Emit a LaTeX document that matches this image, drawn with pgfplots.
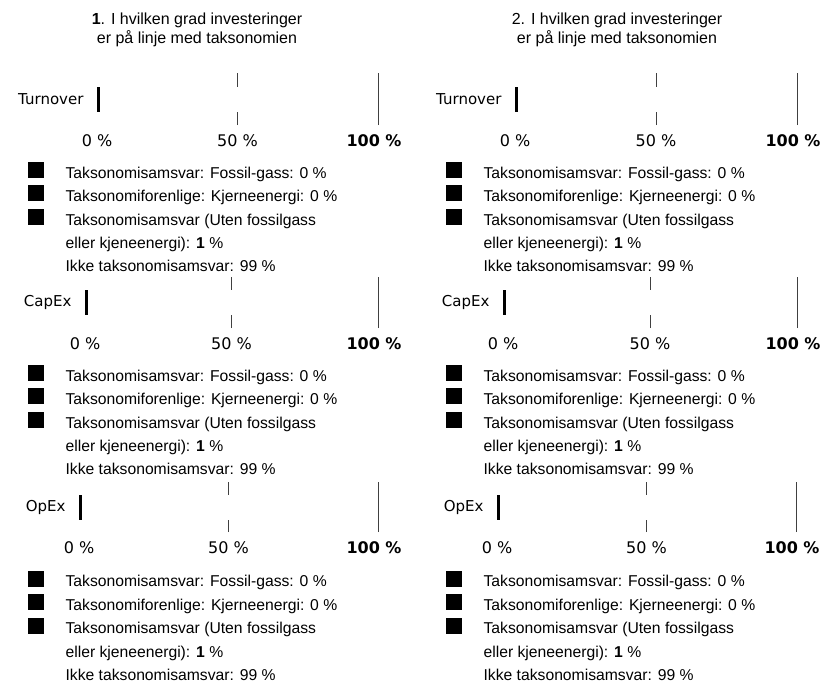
\documentclass[border=0pt]{standalone}
\usepackage{pgfplots}
\pgfplotsset{compat=1.18}
\usepackage{fontspec}
\setmainfont{Liberation Sans}
\newfontfamily\dejavu{DejaVu Sans}

\pgfplotsset{
  sq/.style={legend image code/.code={\fill[black] (0bp,-3bp) rectangle (15bp,12bp);}},
  emptyimg/.style={legend image code/.code={\path[draw=none, fill=none] (0bp,-3bp) rectangle (15bp,12bp);}},
  taxo/.style={
    scale only axis, xbar stacked, bar width=25bp,
    xmin=0, xmax=100, ymin=-1, ymax=1, enlargelimits=false, clip=false,
    axis line style={draw=none}, major tick length=0pt,
    xtick={50,100}, xticklabels={50 \%,\textbf{100 \%}\kern8bp},
    extra x ticks={0}, extra x tick labels={0 \%}, extra x tick style={grid=none},
    xmajorgrids, grid style={black!75, line width=0.8bp},
    ytick={0},
    xticklabel style={font=\dejavu\fontsize{16bp}{19bp}\selectfont, anchor=base, yshift=-21bp},
    yticklabel style={font=\dejavu\fontsize{15bp}{18bp}\selectfont, anchor=east, xshift=-10bp},
    legend cell align=left,
    legend style={draw=none, fill=none, inner sep=0pt, anchor=north west,
      font=\fontsize{15.7bp}{19bp}\selectfont, row sep=3.3bp, column sep=22bp,
      nodes={inner sep=0pt, text height=12bp, text depth=4bp}},
  }
}
\newcommand\taxbars[4]{%
  \addplot[fill=black, draw=none, forget plot] coordinates {(#1,0)};
  \addplot[fill=black, draw=none, forget plot] coordinates {(#2,0)};
  \addplot[fill=black, draw=none, forget plot] coordinates {(#3,0)};
  \addplot[fill=white, draw=none, forget plot] coordinates {(#4,0)};
}
\newcommand\taxlegend{%
  \addlegendimage{sq}\addlegendentry{Taksonomisamsvar: Fossil-gass: 0 \%}
  \addlegendimage{sq}\addlegendentry{Taksonomiforenlige: Kjerneenergi: 0 \%}
  \addlegendimage{sq}\addlegendentry{Taksonomisamsvar (Uten fossilgass}
  \addlegendimage{emptyimg}\addlegendentry{eller kjeneenergi): \textbf{1} \%}
  \addlegendimage{emptyimg}\addlegendentry{Ikke taksonomisamsvar: 99 \%}
}

\begin{document}
\begin{tikzpicture}
\useasboundingbox (0,0) rectangle (821bp,-684bp);
\fill[white] (0,0) rectangle (821bp,-684bp);

% titles
\node[anchor=base, font=\fontsize{16bp}{19bp}\selectfont] at (197bp,-24bp) {\textbf{1}. I hvilken grad investeringer};
\node[anchor=base, font=\fontsize{16bp}{19bp}\selectfont] at (197bp,-43bp) {er på linje med taksonomien};
\node[anchor=base, font=\fontsize{16bp}{19bp}\selectfont] at (617bp,-24bp) {2. I hvilken grad investeringer};
\node[anchor=base, font=\fontsize{16bp}{19bp}\selectfont] at (617bp,-43bp) {er på linje med taksonomien};

% ---------- left column
\begin{axis}[taxo, at={(97bp,-73bp)}, anchor=north west, width=281bp, height=52bp,
  yticklabels={Turnover}, legend style={at={(-0.2456,-0.704)}}]
\taxbars{0}{0}{1}{99}
\taxlegend
\end{axis}

\begin{axis}[taxo, at={(85bp,-277bp)}, anchor=north west, width=293bp, height=51bp,
  yticklabels={CapEx}, legend style={at={(-0.1945,-0.72)}}]
\taxbars{0}{0}{1}{99}
\taxlegend
\end{axis}

\begin{axis}[taxo, at={(79bp,-482bp)}, anchor=north west, width=299bp, height=50bp,
  yticklabels={OpEx}, legend style={at={(-0.1706,-0.77)}}]
\taxbars{0}{0}{1}{99}
\taxlegend
\end{axis}

% ---------- right column
\begin{axis}[taxo, at={(515bp,-73bp)}, anchor=north west, width=282bp, height=52bp,
  yticklabels={Turnover}, legend style={at={(-0.2447,-0.704)}}]
\taxbars{0}{0}{1}{99}
\taxlegend
\end{axis}

\begin{axis}[taxo, at={(503bp,-277bp)}, anchor=north west, width=294bp, height=51bp,
  yticklabels={CapEx}, legend style={at={(-0.1939,-0.72)}}]
\taxbars{0}{0}{1}{99}
\taxlegend
\end{axis}

\begin{axis}[taxo, at={(497bp,-482bp)}, anchor=north west, width=299bp, height=50bp,
  yticklabels={OpEx}, legend style={at={(-0.1706,-0.77)}}]
\taxbars{0}{0}{1}{99}
\taxlegend
\end{axis}
\end{tikzpicture}
\end{document}
